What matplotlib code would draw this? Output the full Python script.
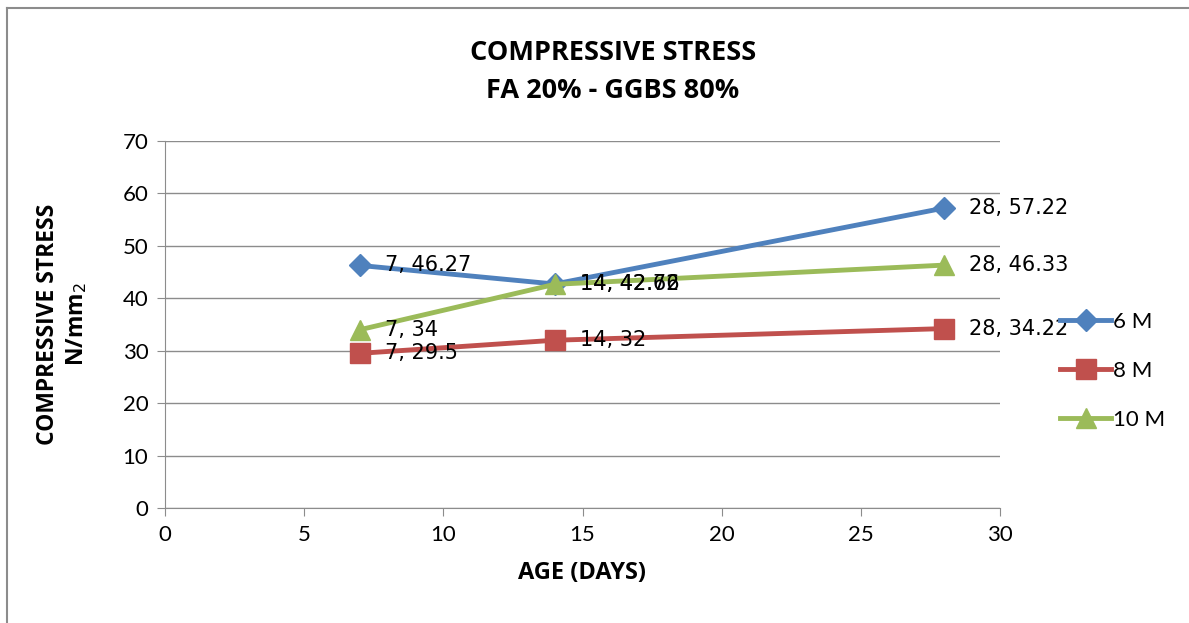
import matplotlib.pyplot as plt
from matplotlib.lines import Line2D

# Data
days = [7, 14, 28]
stress_6m = [46.27, 42.72, 57.22]
stress_8m = [29.5, 32, 34.22]
stress_10m = [34, 42.66, 46.33]
series_names = ['6 M', '8 M', '10 M']

colors = ['#4F81BD', '#C0504D', '#9BBB59']
markers = ['D', 's', '^']

fig = plt.figure(figsize=(11.89, 6.23), dpi=100)
ax = fig.add_axes([165 / 1189, 115 / 623, 835 / 1189, 367 / 623])

# Chart area border (top and left visible)
fig.add_artist(Line2D([7 / 1189, 7 / 1189], [0, 1 - 8 / 623], transform=fig.transFigure,
                      color='#8c8c8c', lw=1.5))
fig.add_artist(Line2D([7 / 1189, 1], [1 - 8 / 623, 1 - 8 / 623], transform=fig.transFigure,
                      color='#8c8c8c', lw=1.5))

all_series = [stress_6m, stress_8m, stress_10m]
for vals, name, c, m in zip(all_series, series_names, colors, markers):
    ax.plot(days, vals, color=c, lw=3.5, marker=m, markersize=14 if m != 'D' else 11,
            label=name, zorder=3)
    for x, y in zip(days, vals):
        ax.annotate(f'{x}, {y:g}', (x, y), xytext=(18, 0), textcoords='offset points',
                    va='center', ha='left', fontsize=15, family='DejaVu Sans', zorder=4)

ax.set_xlim(0, 30)
ax.set_ylim(0, 70)
ax.set_xticks(range(0, 31, 5))
ax.set_yticks(range(0, 71, 10))
ax.yaxis.grid(True, color='#8c8c8c', lw=1)
ax.set_axisbelow(True)
for s in ['top', 'right']:
    ax.spines[s].set_visible(False)
ax.spines['left'].set_color('#8c8c8c')
ax.spines['bottom'].set_color('#8c8c8c')
ax.tick_params(labelsize=16, colors='black', length=6, color='#8c8c8c', direction='out', pad=6)
for lab in ax.get_xticklabels() + ax.get_yticklabels():
    lab.set_family('Lato')

ax.set_xlabel('AGE (DAYS)', fontsize=17, fontweight='bold', family='Open Sans', labelpad=12)
ax.set_ylabel('COMPRESSIVE STRESS\nN/mm$_2$', fontsize=16.5, fontweight='bold', family='Open Sans',
              labelpad=24, linespacing=1.2)

fig.text(613 / 1189, 1 - 72 / 623, 'COMPRESSIVE STRESS\nFA 20% - GGBS 80%', ha='center',
         va='center', fontsize=19.5, fontweight='bold', family='Open Sans', linespacing=1.65)

fig.legend(loc='center left', bbox_to_anchor=(1040 / 1189, 1 - 371 / 623), frameon=False,
           labelspacing=1.3, handlelength=2.3, handletextpad=0.1,
           prop={'family': 'Lato', 'size': 16})

fig.savefig('out.png', dpi=100)
